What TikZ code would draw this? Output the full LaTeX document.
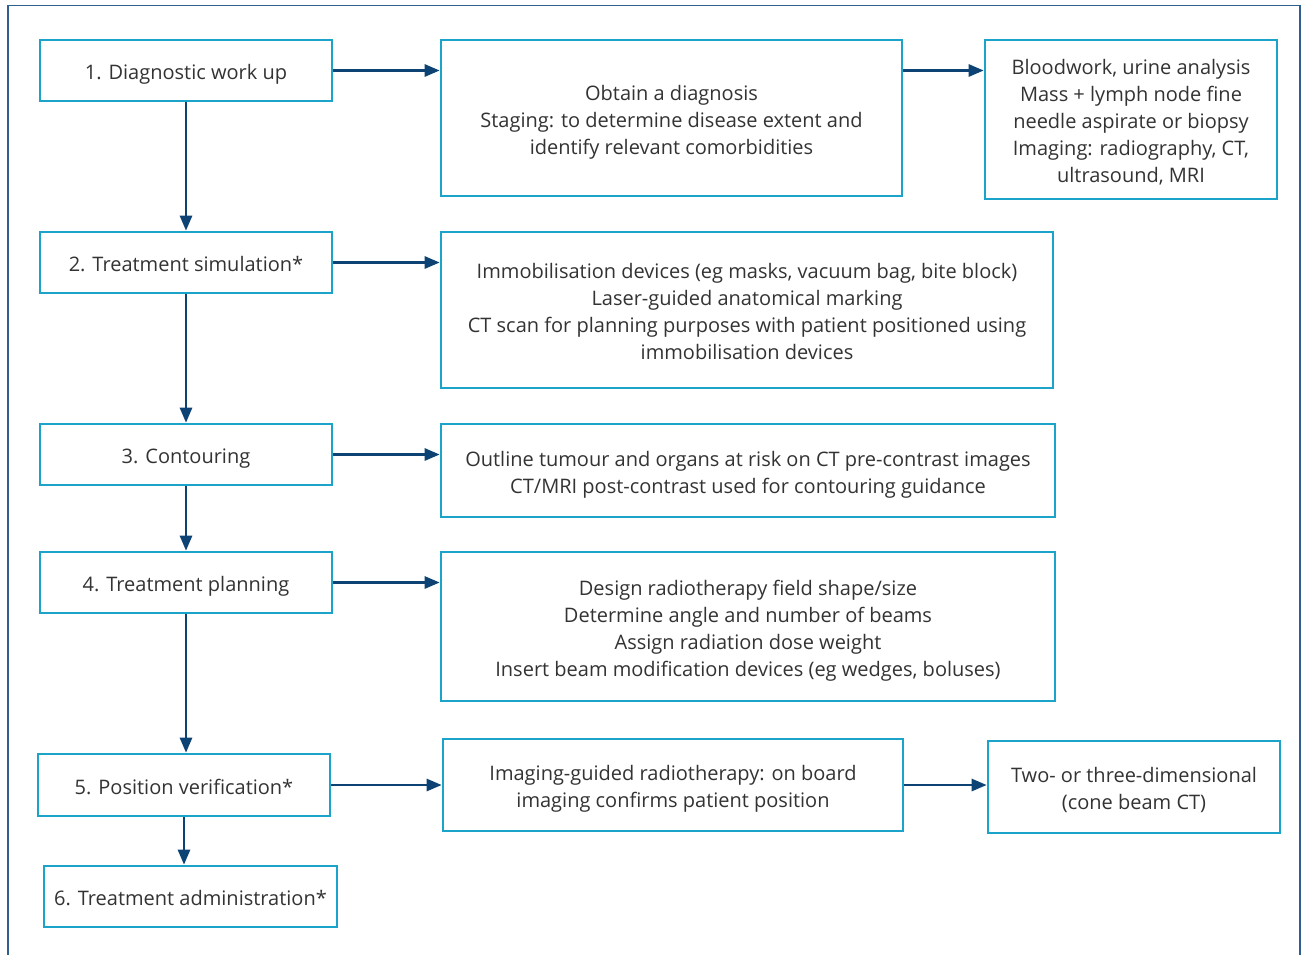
\documentclass[tikz,border=0pt]{standalone}
\usepackage{fontspec}
\setmainfont{Open Sans}
\usetikzlibrary{arrows.meta}
\definecolor{boxc}{HTML}{1BA3C9}
\definecolor{arrc}{HTML}{0D4374}
\definecolor{framec}{HTML}{2E5F8F}
\definecolor{txtc}{HTML}{333333}
\newcommand{\btxt}[1]{\raisebox{-4pt}[\height][\depth]{\begin{tabular}{@{}c@{}}#1\end{tabular}}}
\tikzset{
  stepbox/.style={draw=boxc, line width=2.6pt, fill=white, text=txtc,
    inner sep=0pt, font=\fontsize{20}{27}\selectfont, anchor=center},
  conn/.style={draw=arrc, line width=2.6pt, -{Triangle[length=15pt,width=12pt]}},
}
\begin{document}
\begin{tikzpicture}[x=1pt,y=-1pt]
\useasboundingbox (0,0) rectangle (1303,955);
\draw[framec, line width=1.2pt] (8,955) -- (8,5.5) -- (1300,5.5) -- (1300,955);

\node[stepbox, minimum width=292pt, minimum height=61pt] (s1) at (186,70.5) {\btxt{1. Diagnostic work up}};
\node[stepbox, minimum width=461pt, minimum height=156pt] (a) at (671.5,118) {\btxt{Obtain a diagnosis\\Staging: to determine disease extent and\\identify relevant comorbidities}};
\node[stepbox, minimum width=292pt, minimum height=159pt] (b) at (1131,119.5) {\btxt{Bloodwork, urine analysis\\Mass + lymph node fine\\needle aspirate or biopsy\\Imaging: radiography, CT,\\ultrasound, MRI}};

\node[stepbox, minimum width=292pt, minimum height=61pt] (s2) at (186,262.5) {\btxt{2. Treatment simulation*}};
\node[stepbox, minimum width=612pt, minimum height=156pt] (c) at (747,310) {\btxt{Immobilisation devices (eg masks, vacuum bag, bite block)\\Laser-guided anatomical marking\\CT scan for planning purposes with patient positioned using\\immobilisation devices}};

\node[stepbox, minimum width=292pt, minimum height=61pt] (s3) at (186,454.5) {\btxt{3. Contouring}};
\node[stepbox, minimum width=614pt, minimum height=93pt] (d) at (748,470.5) {\btxt{Outline tumour and organs at risk on CT pre-contrast images\\CT/MRI post-contrast used for contouring guidance}};

\node[stepbox, minimum width=292pt, minimum height=61pt] (s4) at (186,582.5) {\btxt{4. Treatment planning}};
\node[stepbox, minimum width=614pt, minimum height=149pt] (e) at (748,626.5) {\btxt{Design radiotherapy field shape/size\\Determine angle and number of beams\\Assign radiation dose weight\\Insert beam modification devices (eg wedges, boluses)}};

\node[stepbox, minimum width=292pt, minimum height=62pt] (s5) at (184,785) {\btxt{5. Position verification*}};
\node[stepbox, minimum width=460pt, minimum height=92pt] (f) at (673,785) {\btxt{Imaging-guided radiotherapy: on board\\imaging confirms patient position}};
\node[stepbox, minimum width=292pt, minimum height=92pt] (g) at (1134,787) {\btxt{Two- or three-dimensional\\(cone beam CT)}};

\node[stepbox, minimum width=293pt, minimum height=61pt] (s6) at (190.5,896.5) {\btxt{6. Treatment administration*}};

\draw[conn] (s1.east) -- (s1.east -| a.west);
\draw[conn] (a.east |- s1.east) -- (s1.east -| b.west);
\draw[conn] (s2.east) -- (s2.east -| c.west);
\draw[conn] (s3.east) -- (s3.east -| d.west);
\draw[conn] (s4.east) -- (s4.east -| e.west);
\draw[conn] (s5.east) -- (s5.east -| f.west);
\draw[conn] (f.east) -- (f.east -| g.west);

\draw[conn] (s1.south) -- (s2.north);
\draw[conn] (s2.south) -- (s3.north);
\draw[conn] (s3.south) -- (s4.north);
\draw[conn] (s4.south) -- (s4.south |- s5.north);
\draw[conn] (s5.south) -- (s5.south |- s6.north);
\end{tikzpicture}
\end{document}
